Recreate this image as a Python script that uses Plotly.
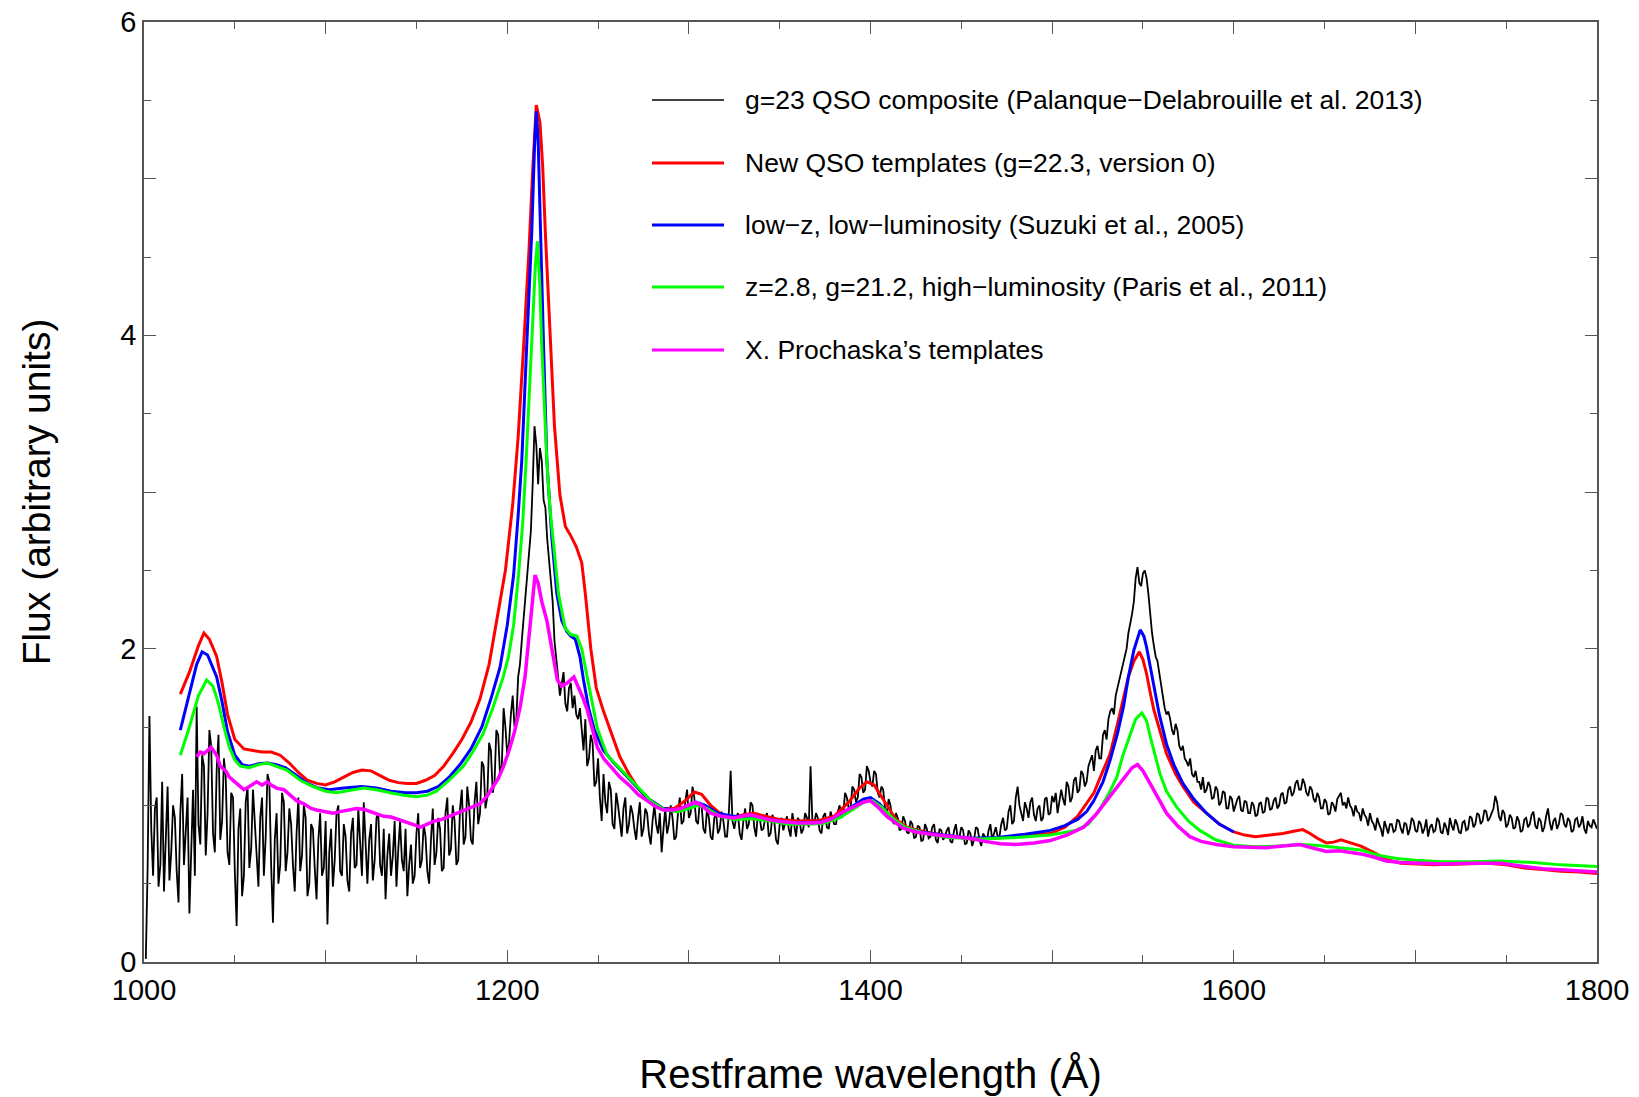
import plotly.graph_objects as go

# ---------------- data ----------------
# g=23 QSO composite (noisy), sampled every 1 A from 1001 A to 1800 A
black_wave = list(range(1001, 1801))
black_flux = [
    0.02, 0.60, 1.57, 0.85, 0.55, 0.98, 1.05, 0.48, 0.62, 1.15, 0.45, 0.80, 1.12, 0.52, 0.70, 1.00, 0.92, 0.58, 0.38, 0.95,
    1.20, 0.62, 0.85, 1.05, 0.31, 0.78, 1.10, 0.55, 1.63, 0.88, 0.75, 1.32, 1.25, 0.68, 0.95, 1.48, 1.38, 0.82, 0.70, 1.22,
    1.45, 0.78, 0.90, 1.30, 1.18, 0.70, 0.62, 1.08, 1.05, 0.58, 0.23, 0.85, 0.98, 0.42, 0.55, 1.02, 1.12, 0.60, 0.72, 1.10,
    0.90, 0.68, 0.48, 0.92, 1.05, 0.55, 0.80, 1.20, 1.15, 0.62, 0.25, 0.78, 0.95, 0.50, 0.62, 1.08, 1.02, 0.58, 0.70, 0.98,
    0.88, 0.62, 0.45, 0.82, 1.05, 0.58, 0.68, 1.00, 0.92, 0.42, 0.50, 0.88, 0.85, 0.60, 0.40, 0.78, 0.95, 0.55, 0.60, 0.90,
    0.24, 0.70, 0.85, 0.48, 0.65, 0.95, 1.00, 0.58, 0.55, 0.88, 0.80, 0.52, 0.45, 0.82, 0.92, 0.60, 0.62, 0.98, 0.78, 0.55,
    1.02, 0.72, 0.50, 0.78, 0.88, 0.52, 0.65, 0.92, 0.95, 0.62, 0.55, 0.85, 0.40, 0.68, 0.82, 0.55, 0.68, 0.90, 0.48, 0.72,
    0.90, 0.65, 0.58, 0.85, 0.42, 0.62, 0.75, 0.50, 0.55, 0.82, 0.95, 0.60, 0.65, 0.88, 0.80, 0.58, 0.50, 0.78, 0.98, 0.62,
    0.70, 0.92, 0.85, 0.58, 0.60, 0.95, 1.05, 0.68, 0.72, 1.00, 0.90, 0.62, 0.65, 0.98, 1.10, 0.75, 0.80, 1.12, 1.00, 0.78,
    0.75, 1.02, 1.15, 0.88, 0.95, 1.28, 1.25, 0.98, 1.05, 1.40, 1.35, 1.08, 1.15, 1.48, 1.45, 1.20, 1.25, 1.62, 1.50, 1.32,
    1.40, 1.58, 1.70, 1.50, 1.55, 1.82, 1.90, 2.05, 2.20, 2.35, 2.45, 2.62, 2.75, 3.05, 3.42, 3.30, 3.05, 3.28, 3.20, 2.95,
    2.90, 2.70, 2.55, 2.42, 2.30, 2.05, 1.95, 1.82, 1.70, 1.78, 1.85, 1.65, 1.60, 1.75, 1.78, 1.62, 1.70, 1.58, 1.55, 1.62,
    1.45, 1.35, 1.55, 1.25, 1.30, 1.45, 1.40, 1.12, 1.15, 1.30, 1.05, 0.90, 1.20, 1.02, 0.95, 1.15, 1.10, 0.88, 0.85, 1.08,
    1.00, 0.90, 0.80, 0.98, 1.05, 0.82, 0.88, 1.00, 0.95, 0.85, 0.78, 0.92, 1.02, 0.80, 0.85, 0.98, 0.95, 0.82, 0.75, 0.90,
    1.00, 0.88, 0.82, 0.95, 0.70, 0.85, 0.98, 0.82, 0.88, 1.00, 0.92, 0.78, 0.80, 0.95, 1.05, 0.88, 0.90, 1.02, 1.10, 0.92,
    0.95, 1.12, 1.05, 0.90, 0.88, 1.02, 1.00, 0.85, 0.82, 0.98, 0.92, 0.80, 0.78, 0.92, 0.95, 0.82, 0.85, 0.96, 0.90, 0.80,
    0.80, 0.95, 1.22, 0.90, 0.85, 0.92, 0.95, 0.82, 0.78, 0.90, 0.98, 0.85, 0.88, 1.02, 1.00, 0.86, 0.80, 0.95, 0.92, 0.84,
    0.85, 0.92, 0.95, 0.80, 0.82, 0.94, 0.90, 0.78, 0.75, 0.88, 0.92, 0.84, 0.88, 0.93, 0.85, 0.80, 0.95, 0.88, 0.80, 0.92,
    0.90, 0.82, 0.85, 0.95, 0.92, 0.86, 1.25, 0.90, 0.88, 0.95, 0.92, 0.84, 0.82, 0.93, 0.95, 0.86, 0.85, 0.96, 0.92, 0.88,
    0.88, 0.96, 1.00, 0.92, 0.95, 1.08, 1.05, 0.98, 0.98, 1.12, 1.10, 1.02, 1.05, 1.20, 1.18, 1.08, 1.10, 1.25, 1.22, 1.15,
    1.12, 1.22, 1.20, 1.08, 1.05, 1.12, 1.10, 0.98, 0.95, 1.04, 1.00, 0.90, 0.88, 0.95, 0.92, 0.84, 0.85, 0.93, 0.90, 0.83,
    0.82, 0.90, 0.88, 0.79, 0.80, 0.87, 0.86, 0.77, 0.78, 0.88, 0.85, 0.79, 0.80, 0.86, 0.88, 0.78, 0.76, 0.85, 0.84, 0.78,
    0.80, 0.84, 0.86, 0.77, 0.76, 0.84, 0.88, 0.79, 0.80, 0.86, 0.84, 0.75, 0.76, 0.84, 0.82, 0.74, 0.78, 0.86, 0.85, 0.78,
    0.74, 0.82, 0.80, 0.76, 0.84, 0.88, 0.78, 0.82, 0.86, 0.80, 0.80, 0.88, 0.92, 0.84, 0.85, 0.96, 1.00, 0.88, 0.90, 1.05,
    1.12, 1.00, 0.95, 0.90, 1.02, 0.98, 0.92, 1.02, 1.05, 0.94, 0.90, 0.98, 1.00, 0.90, 0.92, 1.04, 1.05, 0.94, 0.95, 1.06,
    1.02, 1.08, 0.95, 1.02, 1.10, 1.04, 1.00, 1.15, 1.12, 1.02, 1.05, 1.16, 1.18, 1.08, 1.10, 1.22, 1.20, 1.12, 1.15, 1.25,
    1.28, 1.32, 1.22, 1.35, 1.38, 1.30, 1.30, 1.45, 1.48, 1.42, 1.55, 1.60, 1.62, 1.58, 1.70, 1.75, 1.78, 1.85, 1.90, 1.95,
    2.00, 2.10, 2.15, 2.22, 2.30, 2.45, 2.52, 2.42, 2.40, 2.48, 2.50, 2.45, 2.35, 2.22, 2.10, 2.02, 1.95, 1.92, 1.85, 1.78,
    1.70, 1.62, 1.58, 1.60, 1.55, 1.48, 1.45, 1.52, 1.48, 1.38, 1.35, 1.38, 1.30, 1.28, 1.25, 1.30, 1.20, 1.18, 1.22, 1.15,
    1.15, 1.10, 1.18, 1.08, 1.10, 1.15, 1.12, 1.04, 1.05, 1.12, 1.10, 1.00, 1.02, 1.09, 1.08, 0.98, 0.98, 1.06, 1.04, 0.96,
    1.00, 1.04, 1.06, 0.97, 0.96, 1.03, 1.02, 0.95, 0.95, 1.02, 1.00, 0.93, 0.94, 1.01, 1.02, 0.95, 0.96, 1.05, 1.04, 0.97,
    0.98, 1.03, 1.05, 0.98, 1.00, 1.07, 1.08, 1.01, 1.02, 1.10, 1.12, 1.06, 1.08, 1.14, 1.16, 1.10, 1.10, 1.17, 1.14, 1.08,
    1.06, 1.12, 1.10, 1.04, 1.02, 1.08, 1.05, 0.98, 0.98, 1.04, 1.02, 0.94, 0.95, 1.02, 1.00, 0.96, 1.04, 1.06, 1.08, 1.00,
    1.02, 0.98, 1.05, 1.00, 0.98, 0.93, 1.00, 0.96, 0.95, 0.90, 0.98, 0.94, 0.92, 0.87, 0.95, 0.90, 0.88, 0.84, 0.92, 0.88,
    0.85, 0.80, 0.90, 0.86, 0.82, 0.88, 0.88, 0.83, 0.84, 0.91, 0.90, 0.85, 0.82, 0.89, 0.88, 0.81, 0.85, 0.92, 0.90, 0.84,
    0.83, 0.90, 0.88, 0.82, 0.85, 0.91, 0.80, 0.86, 0.88, 0.83, 0.84, 0.92, 0.90, 0.83, 0.82, 0.89, 0.86, 0.81, 0.92, 0.87,
    0.84, 0.91, 0.88, 0.83, 0.82, 0.89, 0.90, 0.84, 0.85, 0.93, 0.92, 0.86, 0.88, 0.95, 0.94, 0.88, 0.90, 0.97, 0.96, 0.90,
    0.92, 0.95, 0.98, 1.06, 1.02, 0.93, 0.90, 0.97, 0.95, 0.86, 0.88, 0.94, 0.92, 0.85, 0.86, 0.93, 0.90, 0.83, 0.84, 0.91,
    0.92, 0.86, 0.88, 0.94, 0.96, 0.87, 0.85, 0.92, 0.90, 0.83, 0.86, 0.93, 0.98, 0.89, 0.84, 0.90, 0.92, 0.85, 0.88, 0.95,
    0.94, 0.88, 0.86, 0.92, 0.90, 0.83, 0.84, 0.91, 0.92, 0.86, 0.88, 0.93, 0.85, 0.82, 0.90, 0.87, 0.86, 0.91, 0.88, 0.85,
]

# New QSO templates (red)
red_wave = [1020, 1025, 1030, 1033, 1036, 1040, 1043, 1046, 1050, 1055, 1060, 1065, 1070, 1075,
            1080, 1085, 1090, 1095, 1100, 1105, 1110, 1115, 1120, 1125, 1130, 1135, 1140, 1145,
            1150, 1155, 1160, 1165, 1170, 1175, 1180, 1185, 1190, 1195, 1199, 1203, 1206, 1209,
            1212, 1214, 1216, 1218, 1219.5, 1221, 1223, 1226, 1229, 1232, 1235, 1238, 1241, 1243,
            1246, 1249, 1253, 1258, 1262, 1267, 1272, 1278, 1285, 1292, 1298, 1303, 1307, 1312,
            1318, 1324, 1330, 1336, 1342, 1350, 1360, 1372, 1380, 1388, 1394, 1398, 1402, 1408,
            1414, 1420, 1430, 1440, 1455, 1470, 1485, 1499, 1507, 1514, 1519, 1523, 1528, 1532,
            1536, 1539, 1542, 1545, 1548, 1550, 1552, 1554, 1556, 1560, 1563, 1568, 1572, 1578,
            1585, 1592, 1600, 1606, 1612, 1620, 1627, 1633, 1638, 1642, 1646, 1651, 1655, 1659,
            1664, 1670, 1677, 1684, 1692, 1700, 1710, 1725, 1740, 1750, 1760, 1770, 1780, 1790, 1800]
red_flux = [1.71, 1.85, 2.02, 2.10, 2.06, 1.95, 1.78, 1.58, 1.42, 1.36, 1.35, 1.34, 1.34, 1.32,
            1.27, 1.21, 1.16, 1.14, 1.13, 1.15, 1.18, 1.21, 1.225, 1.22, 1.19, 1.16, 1.145, 1.14,
            1.14, 1.16, 1.19, 1.25, 1.33, 1.42, 1.53, 1.68, 1.90, 2.22, 2.50, 2.92, 3.35, 3.93,
            4.55, 5.05, 5.47, 5.36, 5.08, 4.65, 4.15, 3.42, 2.98, 2.78, 2.72, 2.65, 2.55, 2.35,
            2.00, 1.75, 1.60, 1.44, 1.31, 1.20, 1.11, 1.03, 0.98, 0.98, 1.03, 1.085, 1.07, 1.00,
            0.94, 0.92, 0.94, 0.95, 0.93, 0.91, 0.90, 0.905, 0.93, 1.02, 1.11, 1.15, 1.13, 1.02,
            0.91, 0.86, 0.83, 0.81, 0.785, 0.79, 0.81, 0.82, 0.86, 0.93, 1.01, 1.08, 1.22, 1.33,
            1.52, 1.67, 1.82, 1.92, 1.98, 1.93, 1.84, 1.72, 1.61, 1.45, 1.33, 1.20, 1.12, 1.02,
            0.95, 0.88, 0.83, 0.81, 0.80, 0.81, 0.82, 0.835, 0.845, 0.82, 0.79, 0.76, 0.765, 0.78,
            0.76, 0.74, 0.70, 0.655, 0.63, 0.625, 0.62, 0.625, 0.63, 0.62, 0.60, 0.59, 0.58, 0.575, 0.565]

# low-z, low-luminosity (blue)
blue_wave = [1020, 1025, 1029, 1032, 1035, 1040, 1043, 1046, 1050, 1054, 1058, 1063, 1068, 1073,
             1078, 1084, 1090, 1096, 1102, 1110, 1120, 1128, 1136, 1144, 1150, 1156, 1162, 1168,
             1174, 1180, 1186, 1191, 1196, 1200, 1203.5, 1206, 1208, 1210.7, 1213.5, 1215, 1216,
             1217, 1218.2, 1220, 1221.8, 1223, 1224.6, 1227.3, 1230, 1232.8, 1235, 1237.5, 1240,
             1242, 1244.8, 1248, 1253, 1258, 1262, 1267, 1272, 1278, 1286, 1293, 1299, 1304, 1309,
             1316, 1324, 1335, 1345, 1354, 1365, 1374, 1382, 1390, 1396, 1400, 1405, 1411, 1418,
             1428, 1440, 1455, 1470, 1485, 1499, 1507, 1514, 1519, 1523, 1528, 1532, 1536, 1539.3,
             1542, 1545, 1548.5, 1550.5, 1552, 1554, 1556, 1559, 1563, 1567, 1572, 1578, 1585,
             1592, 1600]
blue_flux = [1.48, 1.72, 1.90, 1.98, 1.96, 1.82, 1.66, 1.47, 1.32, 1.26, 1.25, 1.265, 1.27, 1.26,
             1.24, 1.19, 1.14, 1.11, 1.10, 1.11, 1.12, 1.11, 1.09, 1.08, 1.08, 1.09, 1.12, 1.18,
             1.26, 1.36, 1.50, 1.68, 1.88, 2.15, 2.47, 2.85, 3.20, 3.93, 4.66, 5.20, 5.43,
             5.25, 4.66, 3.93, 3.20, 2.95, 2.70, 2.35, 2.18, 2.11, 2.08, 2.06, 1.95,
             1.80, 1.62, 1.48, 1.35, 1.28, 1.23, 1.17, 1.11, 1.04, 0.98, 0.97, 0.99, 1.02, 1.00,
             0.95, 0.93, 0.93, 0.91, 0.89, 0.89, 0.895, 0.93, 0.99, 1.04, 1.05, 1.01, 0.93, 0.86,
             0.83, 0.81, 0.79, 0.795, 0.815, 0.84, 0.87, 0.91, 0.96, 1.03, 1.15, 1.29, 1.46, 1.63,
             1.82, 1.99, 2.12, 2.08, 2.01, 1.88, 1.76, 1.58, 1.39, 1.26, 1.14, 1.04, 0.95,
             0.88, 0.83]

# z=2.8, g=21.2, high-luminosity (green)
green_wave = [1020, 1025, 1030, 1034.5, 1038, 1041, 1044, 1047, 1050, 1053, 1058, 1063, 1068, 1073,
              1078.6, 1086, 1093, 1100, 1106, 1113, 1121, 1128, 1135.5, 1143, 1150, 1156, 1161, 1168,
              1175.8, 1181, 1186.8, 1192, 1197.8, 1200.7, 1203.5, 1206.2, 1208.5, 1210.4, 1213.5,
              1215.5, 1216.6, 1218, 1219, 1220.5, 1221.8, 1223.5, 1225.1, 1228.2, 1231.9, 1235,
              1238.3, 1241, 1243.5, 1245.6, 1249.6, 1255, 1262.5, 1268, 1274, 1280, 1287, 1294,
              1300, 1305, 1310, 1317, 1325, 1335, 1345, 1355, 1365, 1374, 1383, 1391, 1397, 1401,
              1406, 1412, 1419, 1430, 1443, 1460, 1480, 1499, 1513, 1520, 1526, 1531, 1535.6, 1539,
              1543, 1546, 1549.4, 1552, 1554, 1557, 1559.4, 1563, 1568.5, 1575, 1581.3, 1590, 1600,
              1612, 1625, 1637, 1645, 1653, 1660, 1670, 1680, 1690, 1700, 1715, 1730, 1747, 1765,
              1780, 1800]
green_flux = [1.32, 1.50, 1.70, 1.80, 1.76, 1.65, 1.50, 1.37, 1.29, 1.25, 1.24, 1.26, 1.27, 1.25,
              1.225, 1.16, 1.12, 1.09, 1.08, 1.095, 1.11, 1.10, 1.08, 1.065, 1.055, 1.065, 1.09, 1.16,
              1.25, 1.34, 1.46, 1.62, 1.82, 1.95, 2.15, 2.47, 2.80, 3.20, 3.93,
              4.45, 4.60, 4.30, 3.93, 3.55, 3.20, 2.90, 2.70, 2.35, 2.13, 2.09,
              2.08, 2.00, 1.85, 1.72, 1.49, 1.32, 1.23, 1.16, 1.09, 1.02, 0.97, 0.96,
              0.98, 1.00, 0.98, 0.93, 0.91, 0.915, 0.90, 0.88, 0.88, 0.885, 0.92, 0.98, 1.025, 1.03,
              0.99, 0.92, 0.86, 0.82, 0.795, 0.785, 0.795, 0.81, 0.84, 0.88, 0.97, 1.07, 1.18, 1.32,
              1.46, 1.55, 1.59, 1.54, 1.44, 1.30, 1.20, 1.09, 0.99, 0.90, 0.84, 0.78, 0.745,
              0.735, 0.74, 0.75, 0.745, 0.735, 0.725, 0.715, 0.68, 0.66, 0.65, 0.64, 0.64, 0.645, 0.635,
              0.62, 0.61]

# X. Prochaska's templates (magenta)
mag_wave = [1029, 1031, 1033, 1037, 1040, 1042, 1045, 1047, 1050, 1052, 1055, 1058, 1062, 1065,
            1068, 1070, 1073, 1077, 1080, 1084, 1088, 1092, 1095, 1100, 1104, 1108, 1113, 1117,
            1121, 1125, 1129, 1132, 1136, 1140, 1143, 1147, 1150, 1152, 1156, 1160, 1164, 1168,
            1172, 1176, 1180, 1185, 1189, 1192, 1195, 1198, 1201, 1204, 1207, 1209.8, 1212, 1214,
            1215.3, 1217, 1219, 1221.8, 1225, 1227.6, 1230, 1233, 1236.7, 1239, 1241.5, 1244, 1247,
            1249.6, 1253, 1256.9, 1262, 1267.9, 1272, 1277, 1282, 1286, 1291, 1295.4, 1300, 1303.6,
            1307, 1311.9, 1318, 1324.7, 1329, 1333.9, 1339, 1344.9, 1352, 1359.6, 1366, 1372.4,
            1378, 1383.4, 1390.7, 1396, 1399.9, 1404, 1409, 1414, 1418, 1425, 1436.4, 1446, 1454.8,
            1463, 1471.4, 1480, 1490, 1499, 1508, 1517.3, 1524, 1530, 1536, 1541, 1544, 1547, 1550,
            1553.9, 1558, 1563, 1569, 1575.8, 1582, 1590.4, 1600, 1608.8, 1618, 1627, 1636.4, 1641,
            1645.4, 1651, 1658, 1663.7, 1670, 1677, 1684, 1692, 1700, 1715, 1730, 1747, 1760, 1770,
            1785, 1800]
mag_flux = [1.31, 1.34, 1.33, 1.37, 1.32, 1.25, 1.22, 1.18, 1.15, 1.13, 1.10, 1.12, 1.15, 1.13,
            1.15, 1.13, 1.11, 1.10, 1.07, 1.03, 1.01, 0.98, 0.97, 0.96, 0.95, 0.96, 0.97, 0.98,
            0.975, 0.96, 0.94, 0.93, 0.925, 0.91, 0.90, 0.88, 0.87, 0.86, 0.88, 0.90, 0.91, 0.93,
            0.95, 0.97, 0.99, 1.01, 1.06, 1.12, 1.17, 1.25, 1.35, 1.47, 1.62, 1.82, 2.10, 2.35,
            2.47, 2.42, 2.30, 2.18, 1.98, 1.80, 1.76, 1.78, 1.82, 1.76, 1.69, 1.61, 1.48,
            1.37, 1.30, 1.25, 1.18, 1.12, 1.07, 1.03, 0.99, 0.97, 0.97, 0.98, 1.00, 1.02,
            1.00, 0.95, 0.93, 0.92, 0.93, 0.94, 0.925, 0.906, 0.895, 0.887, 0.887, 0.89,
            0.91, 0.95, 0.99, 1.02, 1.03, 0.99, 0.93, 0.885, 0.855, 0.83, 0.81, 0.80, 0.79,
            0.77, 0.755, 0.75, 0.76, 0.775, 0.81, 0.86, 0.94, 1.03, 1.12, 1.20, 1.24, 1.26, 1.22,
            1.14, 1.05, 0.95, 0.87, 0.80, 0.77, 0.75, 0.735, 0.73, 0.73, 0.74, 0.75, 0.735,
            0.72, 0.705, 0.71, 0.70, 0.69, 0.67, 0.645, 0.635, 0.63, 0.625, 0.63, 0.63, 0.61, 0.595,
            0.585, 0.575]

legend_labels = [
    "g=23 QSO composite (Palanque\u2212Delabrouille et al. 2013)",
    "New QSO templates (g=22.3, version 0)",
    "low\u2212z, low\u2212luminosity (Suzuki et al., 2005)",
    "z=2.8, g=21.2, high\u2212luminosity (Paris et al., 2011)",
    "X. Prochaska\u2019s templates",
]
x_tick_vals = [1000, 1100, 1200, 1300, 1400, 1500, 1600, 1700, 1800]
x_tick_text = ["1000", "", "1200", "", "1400", "", "1600", "", "1800"]
x_label_vals = [1000, 1200, 1400, 1600, 1800]
y_tick_vals = [0, 1, 2, 3, 4, 5, 6]
y_tick_text = ["0", "", "2", "", "4", "", "6"]
y_label_vals = [0, 2, 4, 6]

# ---------------- figure ----------------
FONT = "Liberation Sans, Arial, Helvetica, sans-serif"
AX = "#555555"
colors = ["#000000", "#ff0000", "#0000ff", "#00ff00", "#ff00ff"]
widths = [1.8, 3, 3, 3, 3.5]
series = [(black_wave, black_flux), (red_wave, red_flux), (blue_wave, blue_flux),
          (green_wave, green_flux), (mag_wave, mag_flux)]

fig = go.Figure()
for (wx, fy), c, w, name in zip(series, colors, widths, legend_labels):
    fig.add_trace(go.Scatter(x=wx, y=fy, mode="lines", name=name,
                             line=dict(color=c, width=w), showlegend=False))

# manual legend (lines + text) in paper coordinates
leg_y = [0.917, 0.850, 0.784, 0.718, 0.651]
leg_w = [1.5, 3, 3, 3, 3]
for yy, c, w, name in zip(leg_y, colors, leg_w, legend_labels):
    fig.add_shape(type="line", xref="paper", yref="paper", x0=0.3496, x1=0.3992, y0=yy, y1=yy,
                  line=dict(color=c, width=w))
    fig.add_annotation(xref="paper", yref="paper", x=0.4123, y=yy, text=name, showarrow=False,
                       xanchor="left", yanchor="middle", font=dict(family=FONT, size=26.5, color="black"))

common = dict(showline=True, linecolor=AX, linewidth=1.5, ticks="inside", tickcolor=AX,
              tickwidth=1.2, showgrid=False, zeroline=False, mirror="allticks", automargin=False)

# page body has an 8px margin: figure is sized/offset to compensate
fig.update_layout(
    width=1631, height=1089,
    margin=dict(l=136, r=42, t=14, b=135),
    paper_bgcolor="white", plot_bgcolor="white",
    font=dict(family=FONT, color="black"),
    xaxis=dict(range=[1000, 1800], tickmode="array", tickvals=x_tick_vals, ticktext=x_tick_text,
               ticklen=12, tickfont=dict(size=29), ticklabelstandoff=1, ticklabeloverflow="allow",
               minor=dict(dtick=50, tick0=1000, ticklen=7, ticks="inside", tickcolor=AX, tickwidth=1.2),
               title=dict(text="Restframe wavelength (\u00c5)", font=dict(size=40), standoff=55),
               **common),
    yaxis=dict(range=[0, 6], tickmode="array", tickvals=y_tick_vals, ticktext=y_tick_text,
               ticklen=12, tickfont=dict(size=29), ticklabelstandoff=0, ticklabeloverflow="allow",
               minor=dict(dtick=0.5, tick0=0, ticklen=7, ticks="inside", tickcolor=AX, tickwidth=1.2),
               title=dict(text="Flux (arbitrary units)", font=dict(size=39), standoff=58),
               **common),
    xaxis2=dict(overlaying="x", anchor="y", side="bottom", range=[1000, 1800], tickmode="array",
                tickvals=x_label_vals, ticklen=21, showticklabels=False, **common),
    yaxis2=dict(overlaying="y", anchor="x", side="left", range=[0, 6], tickmode="array",
                tickvals=y_label_vals, ticklen=21, showticklabels=False, **common),
)

fig.write_html("out.html")
